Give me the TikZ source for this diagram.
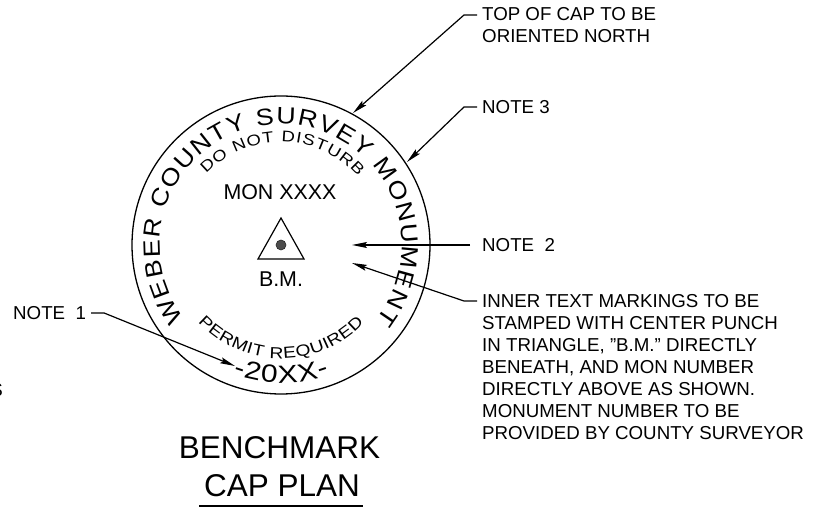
\documentclass[tikz,border=0pt]{standalone}
\usepackage{fontspec}
\setmainfont{Liberation Sans}
\newfontfamily\widefont[FakeStretch=1.2]{Liberation Sans}
\newfontfamily\outerfont[FakeStretch=1.14]{Liberation Sans}
\usetikzlibrary{arrows.meta,decorations.text,calc}
\tikzset{
  x=1pt,y=1pt,
  lbl/.style={inner sep=0pt,anchor=west,align=left,font=\fontsize{18.7}{22}\selectfont},
  ctr/.style={inner sep=0pt,font=\fontsize{21.4}{24}\selectfont},
  ttl/.style={inner sep=0pt,font=\fontsize{31.5}{34}\selectfont},
  leader/.style={line width=1.2pt,-{Stealth[length=15pt,width=6pt,inset=2.5pt]}},
}
\begin{document}
\begin{tikzpicture}
\useasboundingbox (0,0) rectangle (814,508);
% cap
\node[circle,draw,line width=1.3pt,minimum size=298pt,inner sep=0pt] (cap) at (281,263) {};
\coordinate (c) at (281,263);
% arc text
\path[decorate,decoration={text along path,text align={fit to path},
  text={|\outerfont\fontsize{23.5}{24}\selectfont|WEBER COUNTY SURVEY MONUMENT}}]
  ($(c)+(217:121)$) arc (217:-38:121);
\path[decorate,decoration={text along path,text align={fit to path},
  text={|\widefont\fontsize{15.4}{16}\selectfont|DO NOT DISTURB}}]
  ($(c)+(136.5:103)$) arc (136.5:41.5:103);
\path[decorate,decoration={text along path,text align={fit to path},
  text={|\widefont\fontsize{16}{16}\selectfont|PERMIT REQUIRED}}]
  ($(c)+(223:113.5)$) arc (223:317:113.5);
\path[decorate,decoration={text along path,text align={fit to path},
  text={|\widefont\fontsize{25}{24}\selectfont|-20XX-}}]
  ($(c)+(249.5:138)$) arc (249.5:290.5:138);
% centre marks
\node[ctr] (mon) at (280,315.5) {MON XXXX};
\node[ctr] (bm) at (281,229) {B.M.};
\coordinate (ta) at (281,290);
\coordinate (tb) at (258,249);
\coordinate (tc) at (304,249);
\draw[line width=1.2pt,line join=miter] (ta) -- (tb) -- (tc) -- cycle;
\node[circle,fill=black!70,draw=black!85,line width=.6pt,minimum size=10pt,inner sep=0pt] (dot) at (281,263) {};
% notes
\node[lbl] (topn) at (482,482.5) {TOP OF CAP TO BE\\ORIENTED NORTH};
\node[lbl] (n3) at (482,401) {NOTE 3};
\node[lbl] (n2) at (482,263) {NOTE\ \ 2};
\node[lbl] (inner) at (482,140.5) {INNER TEXT MARKINGS TO BE\\STAMPED WITH CENTER PUNCH\\IN TRIANGLE, "B.M." DIRECTLY\\BENEATH, AND MON NUMBER\\DIRECTLY ABOVE AS SHOWN.\\MONUMENT NUMBER TO BE\\PROVIDED BY COUNTY SURVEYOR};
\node[lbl,anchor=west] (n1) at (13,195) {NOTE\ \ 1};
\node[lbl,anchor=east] (frag) at (3,118) {S};
\coordinate (t1) at (235,142);
\coordinate (t2) at (352,263);
\coordinate (t3) at (407,346);
\coordinate (ttop) at (353,395);
\coordinate (tin) at (352,245);
\draw[leader] (topn.west |- 0,493) ++(-5,0) -- ++(-13,0) -- (ttop);
\draw[leader] ([xshift=-5pt]n3.west) -- ++(-13,0) -- (t3);
\draw[leader] ([xshift=-12pt]n2.west) -- (t2);
\draw[leader] (inner.west |- 0,207) ++(-5,0) -- ++(-13,0) -- (tin);
\draw[leader] ([xshift=5pt]n1.east) -- ++(13,0) -- (t1);
% title
\node[ttl] (t) at (279.5,60.5) {BENCHMARK};
\node[ttl] (p) at (282,22) {CAP PLAN};
\draw[line width=1.3pt] (199,2) -- (363,2);
\end{tikzpicture}
\end{document}
